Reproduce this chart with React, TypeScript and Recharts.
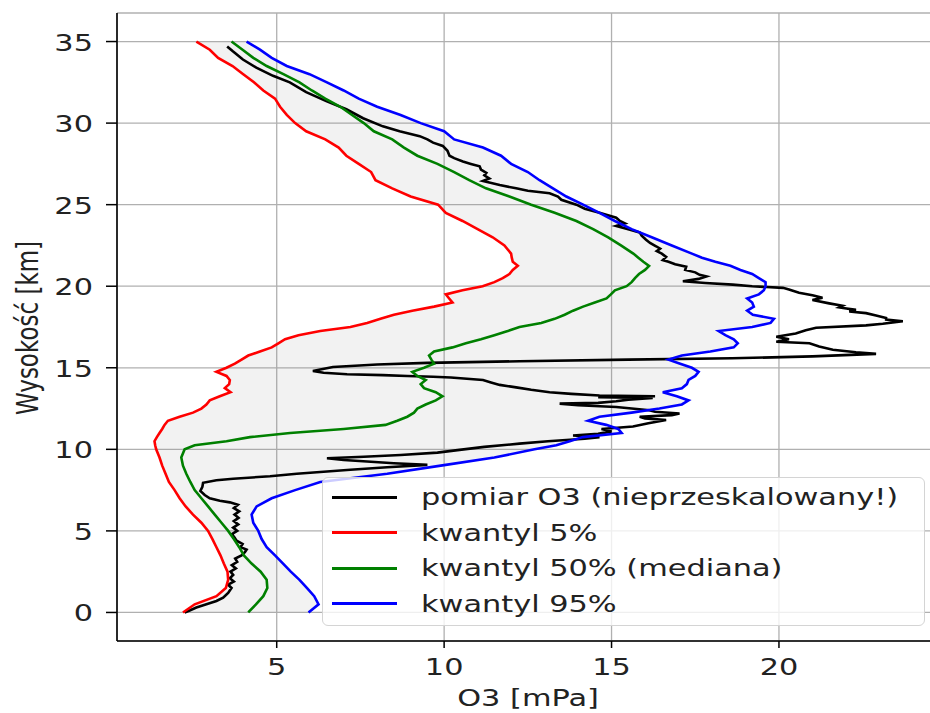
import React from 'react';
import { ComposedChart, Line, Area, XAxis, YAxis, CartesianGrid, Legend } from 'recharts';

// altitude grid [km] shared by the quantile profiles
const QUANT_ALT = [
  0, 0.5, 1, 1.5, 2, 2.5, 3, 3.5, 4, 4.5, 5, 5.5, 6, 6.5, 7, 7.5, 8, 8.5, 9, 9.5,
  10, 10.25, 10.5, 10.75, 11, 11.25, 11.5, 11.75, 12, 12.25, 12.5, 12.75, 13, 13.25, 13.5, 13.75,
  14, 14.25, 14.5, 14.75, 15, 15.25, 15.5, 15.75, 16, 16.25, 16.5, 16.75, 17, 17.25, 17.5, 17.75,
  18, 18.25, 18.5, 18.75, 19, 19.25, 19.5, 19.75, 20, 20.25, 20.5, 20.75, 21, 21.25, 21.5, 21.75, 22,
  22.5, 23, 23.5, 24, 24.5, 25, 25.5, 26, 26.5, 27, 27.5, 28, 28.5, 29, 29.5, 30, 30.5, 31, 31.5,
  32, 32.5, 33, 33.5, 34, 34.5, 35,
];

// 5% quantile [mPa]
const Q05 = [
  2.2, 2.55, 3.2, 3.48, 3.55, 3.53, 3.42, 3.32, 3.2, 3.08, 2.95, 2.75, 2.5, 2.28, 2.1, 1.95, 1.78, 1.68, 1.58, 1.5,
  1.4, 1.37, 1.35, 1.42, 1.5, 1.58, 1.65, 1.75, 2.1, 2.5, 2.75, 2.9, 3.0, 3.3, 3.62, 3.45,
  3.58, 3.6, 3.5, 3.2, 3.5, 3.75, 3.95, 4.15, 4.5, 4.85, 5.05, 5.25, 5.65, 6.3, 7.2, 7.7,
  8.1, 8.5, 9.05, 9.7, 10.25, 10.15, 10.05, 10.55, 11.15, 11.5, 11.75, 11.95, 12.05, 12.2, 12.05, 12.02, 12.0,
  11.8, 11.45, 11.0, 10.55, 10.05, 9.82, 9.0, 8.45, 7.95, 7.82, 7.45, 7.08, 6.85, 6.45, 5.88, 5.55, 5.3, 5.1, 4.95,
  4.6, 4.32, 4.0, 3.68, 3.25, 3.0, 2.6,
];

// 50% quantile (median) [mPa]
const Q50 = [
  4.15, 4.38, 4.6, 4.72, 4.7, 4.52, 4.25, 4.02, 3.88, 3.72, 3.55, 3.35, 3.15, 2.95, 2.75, 2.55, 2.42, 2.3, 2.2, 2.15,
  2.25, 2.55, 3.5, 4.2, 5.4, 7.0, 8.25, 8.6, 8.9, 9.1, 9.2, 9.45, 9.75, 9.95, 9.75, 9.4,
  9.3, 9.45, 9.2, 9.05, 9.4, 9.7, 9.62, 9.55, 9.7, 10.25, 10.65, 11.1, 11.5, 11.9, 12.25, 12.9,
  13.3, 13.6, 13.85, 14.15, 14.5, 14.85, 14.98, 15.1, 15.45, 15.6, 15.7, 15.82, 16.0, 16.12, 15.95, 15.8, 15.65,
  15.28, 14.9, 14.45, 13.95, 13.3, 12.6, 11.95, 11.25, 10.75, 10.3, 9.8, 9.2, 8.8, 8.45, 7.9, 7.6, 7.25, 6.9, 6.45,
  6.05, 5.68, 5.2, 4.7, 4.3, 3.98, 3.65,
];

// 95% quantile [mPa]
const Q95 = [
  5.95, 6.25, 6.12, 5.9, 5.68, 5.42, 5.19, 4.95, 4.7, 4.55, 4.45, 4.3, 4.25, 4.4, 4.85, 5.55, 6.3, 8.3, 9.9, 11.5,
  12.7, 13.35, 13.75, 14.14, 15.3, 15.2, 14.84, 14.3, 14.64, 15.6, 16.43, 17.1, 17.3, 16.95, 16.53, 17.1,
  17.25, 17.3, 17.5, 17.6, 17.4, 17.05, 16.7, 17.1, 17.95, 18.65, 18.77, 18.65, 18.4, 18.2, 19.2, 19.75,
  19.85, 19.22, 19.05, 19.25, 19.2, 19.05, 19.4, 19.55, 19.6, 19.6, 19.4, 19.2, 18.85, 18.55, 18.1, 17.7, 17.4,
  16.8, 16.2, 15.6, 15.1, 14.64, 14.15, 13.65, 13.25, 12.85, 12.5, 12.0, 11.7, 11.16, 10.3, 10.0, 9.3, 8.7, 8.0, 7.45,
  7.0, 6.5, 5.98, 5.3, 4.85, 4.5, 4.1,
];

// sounding (measurement) profile
const MEAS_ALT = [
  0, 0.12, 0.3, 0.5, 0.7, 0.9, 1.2, 1.5, 1.7, 1.9, 2.1, 2.3, 2.5, 2.7, 2.9, 3.1, 3.3, 3.5, 3.7, 3.85,
  4, 4.2, 4.4, 4.6, 4.8, 5, 5.2, 5.4, 5.6, 5.8, 6, 6.2, 6.4, 6.6, 6.75, 6.85, 7, 7.2, 7.45, 7.7,
  7.95, 8.1, 8.2, 8.35, 8.5, 8.6, 8.75, 8.9, 9.05, 9.15, 9.25, 9.35, 9.45, 9.55, 9.65, 9.8, 9.95, 10.15, 10.35, 10.5,
  10.65, 10.75, 10.85, 10.95, 11.1, 11.25, 11.4, 11.6, 11.8, 11.9, 12, 12.1, 12.2, 12.3, 12.4, 12.5, 12.6, 12.7, 12.8, 12.85,
  12.95, 13.05, 13.15, 13.2, 13.25, 13.3, 13.4, 13.5, 13.65, 13.8, 13.95, 14.1, 14.25, 14.4, 14.45, 14.5, 14.55, 14.6, 14.7, 14.8,
  14.9, 15.05, 15.2, 15.3, 15.4, 15.5, 15.58, 15.7, 15.85, 15.95, 16.1, 16.3, 16.5, 16.6, 16.75, 16.9, 17.1, 17.3, 17.45, 17.6,
  17.7, 17.85, 17.95, 18.05, 18.2, 18.35, 18.45, 18.55, 18.7, 18.8, 18.95, 19.15, 19.3, 19.45, 19.6, 19.8, 19.9, 20, 20.1, 20.2,
  20.3, 20.45, 20.6, 20.7, 20.85, 21, 21.2, 21.35, 21.5, 21.6, 21.8, 22, 22.15, 22.3, 22.45, 22.65, 22.85, 23.1, 23.3, 23.5,
  23.7, 23.85, 24, 24.2, 24.5, 24.75, 25, 25.3, 25.5, 25.7, 25.85, 26, 26.2, 26.45, 26.6, 26.8, 26.95, 27.15, 27.35, 27.5,
  27.65, 27.85, 28, 28.3, 28.6, 28.8, 29, 29.2, 29.5, 29.8, 30.3, 30.85, 31.35, 31.9, 32.5, 32.9, 33.4, 33.9, 34.4, 34.7,
];
const MEAS_O3 = [
  2.25, 2.4, 2.6, 2.9, 3.2, 3.4, 3.55, 3.65, 3.55, 3.72, 3.6, 3.7, 3.62, 3.78, 3.66, 3.82, 3.76, 3.95, 4.05, 4.1,
  3.92, 3.98, 3.8, 3.74, 3.66, 3.82, 3.7, 3.85, 3.72, 3.86, 3.74, 3.88, 3.72, 3.84, 3.6, 3.3, 3.0, 2.85, 2.72, 2.78,
  2.8, 3.2, 3.7, 4.8, 5.6, 6.2, 7.2, 8.3, 9.5, 8.5, 7.7, 7.0, 6.5, 7.6, 8.7, 9.8, 10.4, 11.2, 12.25, 13.1,
  14.2, 14.64, 13.85, 14.6, 15.0, 14.7, 15.64, 16.1, 16.63, 16.0, 15.84, 16.8, 17.03, 16.3, 16.13, 15.6, 15.14, 14.0, 13.45, 14.6,
  15.14, 15.5, 16.23, 14.6, 16.3, 14.64, 13.8, 13.15, 12.6, 12.15, 11.66, 11.4, 11.16, 10.2, 9.67, 8.9, 8.17, 7.1, 6.4, 6.08,
  6.3, 6.68, 8.0, 9.5, 12.25, 15.5, 18.6, 21.0, 22.9, 22.3, 21.61, 21.2, 20.91, 19.92, 20.3, 19.92, 20.5, 20.8, 21.11, 22.6,
  23.1, 23.7, 23.2, 23.2, 22.9, 22.6, 22.1, 22.3, 21.8, 21.9, 21.5, 21.0, 21.3, 21.0, 20.6, 20.3, 20.12, 19.2, 18.62, 17.8,
  17.13, 17.6, 17.83, 17.63, 17.5, 17.2, 17.23, 16.9, 16.7, 16.53, 16.63, 16.5, 16.35, 16.45, 16.33, 16.15, 16.03, 15.9, 15.84, 15.5,
  15.14, 15.4, 15.25, 15.14, 14.64, 14.2, 13.95, 13.5, 13.4, 13.15, 12.5, 12.15, 11.66, 11.16, 11.35, 11.2, 11.26, 11.1, 11.06, 10.8,
  10.56, 10.3, 10.16, 10.1, 9.96, 9.67, 9.5, 9.27, 8.67, 8.17, 7.58, 7.08, 6.48, 5.88, 5.39, 4.89, 4.39, 3.99, 3.69, 3.52,
];

const X_TICKS = [5, 10, 15, 20];
const Y_TICKS = [0, 5, 10, 15, 20, 25, 30, 35];

const LEGEND_LABELS = ['pomiar O3 (nieprzeskalowany!)', 'kwantyl 5%', 'kwantyl 50% (mediana)', 'kwantyl 95%'];
const LEGEND_COLORS = ['#000000', '#ff0000', '#008000', '#0000ff'];

const quantData = QUANT_ALT.map((alt, i) => ({
  alt,
  q05: Q05[i],
  q50: Q50[i],
  q95: Q95[i],
  band: [Q05[i], Q95[i]],
}));
const measData = MEAS_ALT.map((alt, i) => ({ alt, o3: MEAS_O3[i] }));

// the original figure is stretched horizontally, so the text is too
const FONT = 'DejaVu Sans';
const FONT_SIZE = 23;
const STRETCH = 1.32;
const TEXT_COLOR = '#222';

const XTick = (props: any) => {
  const { x, y, payload } = props;
  return (
    <text transform={`translate(${x},${y + 25}) scale(${STRETCH},1)`} textAnchor="middle"
      fontFamily={FONT} fontSize={FONT_SIZE} fill={TEXT_COLOR}>
      {payload.value}
    </text>
  );
};

const YTick = (props: any) => {
  const { x, y, payload } = props;
  return (
    <text transform={`translate(${x - 11},${y + 9}) scale(${STRETCH},1)`} textAnchor="end"
      fontFamily={FONT} fontSize={FONT_SIZE} fill={TEXT_COLOR}>
      {payload.value}
    </text>
  );
};

const renderLegend = () => (
  <div style={{
    position: 'relative', width: 603, height: 149, boxSizing: 'border-box',
    border: '1.5px solid #d4d4d4', borderRadius: 6, background: 'rgba(255,255,255,0.8)',
  }}>
    {LEGEND_LABELS.map((label, i) => (
      <div key={label} style={{ position: 'absolute', left: 9, top: 19 + i * 35.6 - 15, height: 30, display: 'flex', alignItems: 'center' }}>
        <div style={{ width: 65, height: 0, borderTop: `3px solid ${LEGEND_COLORS[i]}` }} />
        <span style={{
          marginLeft: 24, fontFamily: FONT, fontSize: FONT_SIZE, lineHeight: '30px', color: TEXT_COLOR,
          whiteSpace: 'nowrap', display: 'inline-block', transform: `scaleX(${STRETCH})`, transformOrigin: 'left center',
        }}>{label}</span>
      </div>
    ))}
  </div>
);

export default function App() {
  return (
    <div style={{ position: 'absolute', left: 0, top: 0, width: 930, height: 713, overflow: 'hidden', background: '#fff' }}>
      <ComposedChart width={945} height={713} layout="vertical" data={quantData}
        margin={{ top: 13, right: 7, bottom: 0, left: 57 }}>
        <CartesianGrid stroke="#b0b0b0" strokeWidth={1.3} />
        <XAxis type="number" domain={[0.23, 24.75]} ticks={X_TICKS} allowDataOverflow height={72}
          tickSize={7} tick={<XTick />} axisLine={{ stroke: '#000', strokeWidth: 1.6 }}
          tickLine={{ stroke: '#000', strokeWidth: 1.5 }}
          label={{
            content: () => (
              <text transform={`translate(528,706) scale(${STRETCH},1)`} textAnchor="middle"
                fontFamily={FONT} fontSize={FONT_SIZE} fill={TEXT_COLOR}>O3 [mPa]</text>
            ),
          }} />
        <XAxis xAxisId="top" orientation="top" type="number" domain={[0.23, 24.75]} height={0}
          tick={false} tickLine={false} axisLine={{ stroke: '#000', strokeWidth: 1.6 }} />
        <YAxis type="number" dataKey="alt" domain={[-1.75, 36.75]} ticks={Y_TICKS} allowDataOverflow width={60}
          reversed tickSize={11} tick={<YTick />} axisLine={{ stroke: '#000', strokeWidth: 1.6 }}
          tickLine={{ stroke: '#000', strokeWidth: 1.5 }}
          label={{
            content: () => (
              <text transform={`translate(38,328) scale(${STRETCH},1) rotate(-90)`} textAnchor="middle"
                fontFamily={FONT} fontSize={FONT_SIZE} fill={TEXT_COLOR}>Wysokość [km]</text>
            ),
          }} />
        <Area dataKey="band" type="linear" stroke="none" fill="#808080" fillOpacity={0.1}
          isAnimationActive={false} legendType="none" />
        <Line data={measData} dataKey="o3" type="linear" stroke="#000000" strokeWidth={2.6} dot={false}
          isAnimationActive={false} />
        <Line dataKey="q05" type="linear" stroke="#ff0000" strokeWidth={2.6} dot={false} isAnimationActive={false} />
        <Line dataKey="q50" type="linear" stroke="#008000" strokeWidth={2.6} dot={false} isAnimationActive={false} />
        <Line dataKey="q95" type="linear" stroke="#0000ff" strokeWidth={2.6} dot={false} isAnimationActive={false} />
        <Legend layout="vertical" align="center" verticalAlign="middle" content={renderLegend}
          wrapperStyle={{ left: 322, top: 477, width: 603, height: 149 }} />
      </ComposedChart>
    </div>
  );
}
